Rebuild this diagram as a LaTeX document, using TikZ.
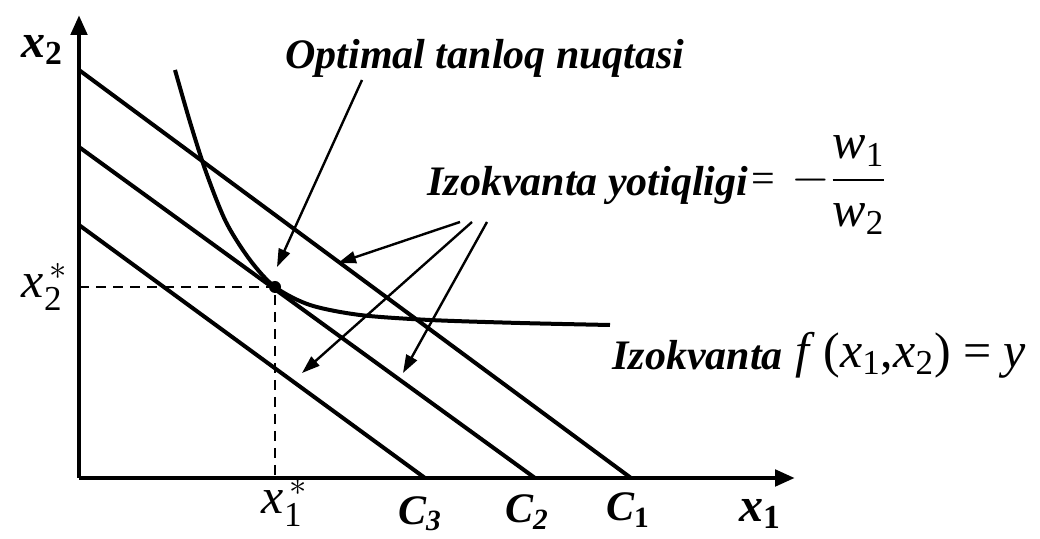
\documentclass[tikz,border=0pt]{standalone}
\usepackage{amsmath}
\usepackage{fontspec}
\setmainfont{Liberation Serif}
\usetikzlibrary{positioning, arrows.meta}

\newcommand{\itvar}[2]{\textit{#1}\textsubscript{#2}}
\newcommand{\starvar}[2]{$\textit{#1}^{\,*}_{\text{#2}}$}

\begin{document}
\begin{tikzpicture}[
    x=0.5pt, y=-0.5pt,
    axis/.style={line width=2.4pt, -{Triangle[length=10pt, width=8pt]}},
    budget/.style={line width=2pt},
    arrow/.style={-{Triangle[length=9pt, width=6pt]}, line width=1.2pt},
    guide/.style={line width=1.2pt, dash pattern=on 5pt off 3.5pt},
    lbl/.style={font=\fontsize{21}{25}\selectfont\bfseries\itshape, inner sep=0pt},
    sym/.style={font=\fontsize{25}{30}\selectfont, inner sep=0pt}
]
\useasboundingbox (0,0) rectangle (1040,539);

% Axes
\coordinate (O) at (79,478);
\draw [axis] (O) -- (795,478);
\draw [axis] (O) -- (79,15);
\node (x2lbl) [lbl] at (42,50) {\fontsize{24}{28}\selectfont x\textsubscript{\upshape 2}};
\node (x1lbl) [lbl] at (760,514) {\fontsize{24}{28}\selectfont x\textsubscript{\upshape 1}};

% Isocost lines
\draw [budget] (79,70) -- (631,478) coordinate (c1);
\draw [budget] (79,147) -- (535,478) coordinate (c2);
\draw [budget] (79,225) -- (425,478) coordinate (c3);
\node (c1lbl) [lbl] at (628,510) {C\textsubscript{\upshape 1}};
\node (c2lbl) [lbl] at (527,512) {C\textsubscript{2}};
\node (c3lbl) [lbl] at (420,514) {C\textsubscript{3}};

% Isoquant
\draw [budget] plot[smooth] coordinates {(175,70) (190,122) (206,172) (226,222) (250,260) (275,287) (310,305) (360,315) (430,320) (520,323) (610,325)};

% Optimal point
\coordinate (opt) at (275,287);
\draw [guide] (79,287) -- (opt) -- (275,478);
\fill (opt) circle (3pt);
\node (x2star) [sym] at (45,287) {\starvar{x}{2}};
\node (x1star) [sym] at (285,503) {\starvar{x}{1}};

% Labels and pointers
\node (optlbl) [lbl] at (485,58) {Optimal tanloq nuqtasi};
\coordinate (optsrc) at (362,80);
\coordinate (opttip) at (277,267);
\draw [arrow] (optsrc) -- (opttip);

\node (slope) [lbl, anchor=west] at (427,185) {Izokvanta yotiqligi};
\node (frac) [sym, right=1pt of slope] {{\fontsize{21}{24}\selectfont=}\,\,$-\dfrac{\text{\itvar{w}{1}}}{\text{\itvar{w}{2}}}$};
\coordinate (s1) at (460,222);
\coordinate (s2) at (472,222);
\coordinate (s3) at (487,222);
\coordinate (t1) at (338,263);
\coordinate (t2) at (302,373);
\coordinate (t3) at (403,373);
\draw [arrow] (s1) -- (t1);
\draw [arrow] (s2) -- (t2);
\draw [arrow] (s3) -- (t3);

\node (isolbl) [lbl, anchor=west] at (612,355) {Izokvanta};
\node (isoeq) [sym, right=6pt of isolbl] {\textit{f}\,(\itvar{x}{1},\itvar{x}{2}) = \textit{y}};
\end{tikzpicture}
\end{document}
